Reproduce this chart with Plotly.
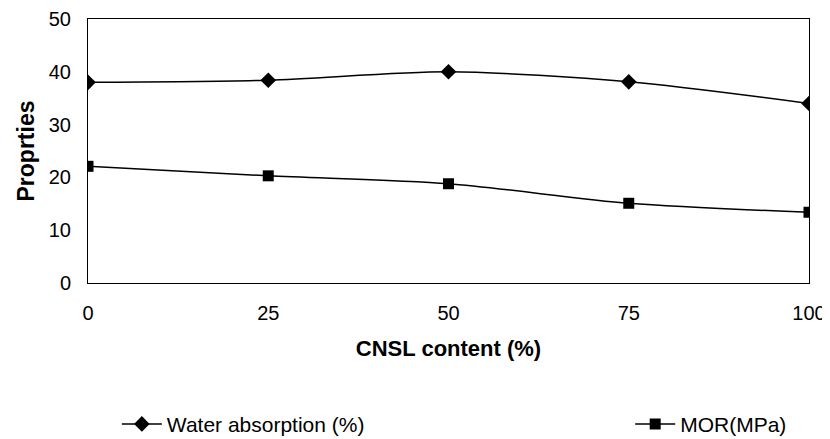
from plotly import graph_objects as go

cnsl = [0, 25, 50, 75, 100]
water_abs = [38.0, 38.4, 40.0, 38.1, 34.0]
mor = [22.1, 20.3, 18.8, 15.1, 13.4]

font = "Liberation Sans, Arial, sans-serif"

fig = go.Figure()
fig.add_trace(
    go.Scatter(
        x=cnsl, y=water_abs, name="Water absorption (%)",
        mode="lines+markers", line=dict(color="black", width=1.5, shape="spline", smoothing=0.8),
        marker=dict(symbol="diamond", size=12, color="black"),
        legend="legend", showlegend=True,
    )
)
fig.add_trace(
    go.Scatter(
        x=cnsl, y=mor, name="MOR(MPa)",
        mode="lines+markers", line=dict(color="black", width=1.5, shape="spline", smoothing=0.8),
        marker=dict(symbol="square", size=11, color="black"),
        legend="legend2", showlegend=True,
    )
)

# page body has an 8px margin, so the figure sits 8px in from the window corner;
# it is made a little larger than the window so the low legend does not push margins
fig.update_layout(
    width=830, height=447,
    margin=dict(l=80, r=29, t=11, b=170),
    paper_bgcolor="white", plot_bgcolor="white",
    font=dict(family=font, size=20, color="black"),
    showlegend=True,
    legend=dict(x=0.040, y=-0.535, xanchor="left", yanchor="middle",
                font=dict(size=21), bgcolor="rgba(0,0,0,0)", itemwidth=40),
    legend2=dict(x=0.752, y=-0.535, xanchor="left", yanchor="middle",
                 font=dict(size=21), bgcolor="rgba(0,0,0,0)", itemwidth=40),
)
fig.update_xaxes(
    range=[0, 100], tickvals=cnsl, showgrid=False, zeroline=False, automargin=False,
    showline=True, linecolor="black", linewidth=1, mirror=True,
    ticks="outside", ticklen=12, tickcolor="white", ticklabeloverflow="allow",
    title=dict(text="<b>CNSL content (%)</b>", font=dict(size=22), standoff=17),
)
fig.update_yaxes(
    range=[0, 50], dtick=10, showgrid=False, zeroline=False, automargin=False,
    showline=True, linecolor="black", linewidth=1, mirror=True,
    ticks="outside", ticklen=12, tickcolor="white", ticklabeloverflow="allow",
    title=dict(text="<b>Proprties</b>", font=dict(size=23), standoff=7),
)

# figure overflows the window a bit, so hide the scrollbars
fig.write_html("out.html", post_script="document.body.style.overflow = 'hidden';")
